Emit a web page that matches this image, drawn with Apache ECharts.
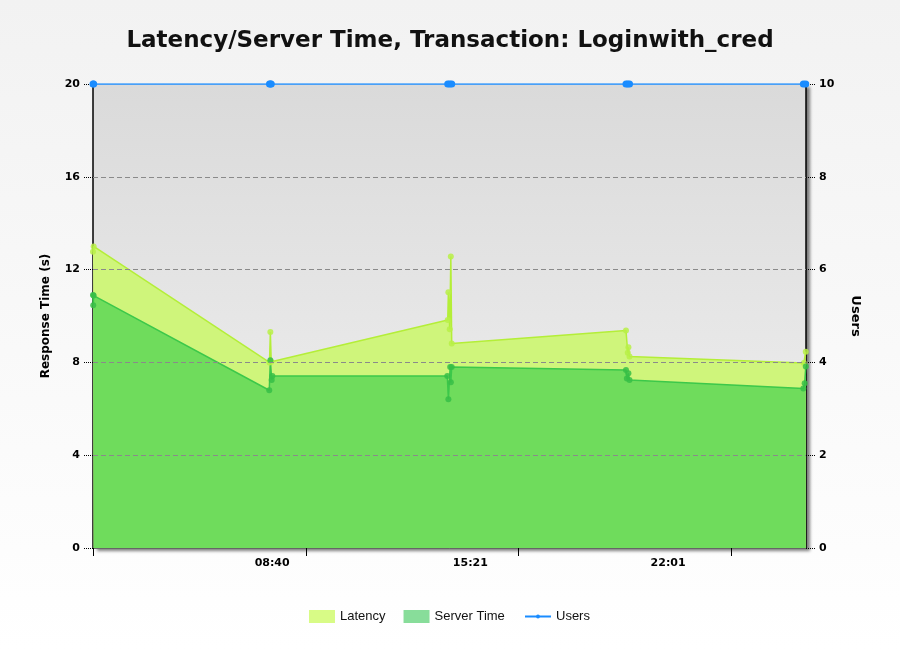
<!DOCTYPE html>
<html><head><meta charset="utf-8">
<script src="https://cdn.jsdelivr.net/npm/echarts@6/dist/echarts.min.js"></script>
<style>html,body{margin:0;padding:0;background:#fff}#c{width:900px;height:650px}</style>
</head><body><div id="c"></div>
<script>
// time in minutes from 00:00 of the first day
const latencyMinutes = [120, 121.5, 518, 520, 522, 920, 921.5, 924.5, 927, 929, 1322, 1326, 1327.5, 1330, 1723, 1727.5];
const latencyValues  = [12.77, 13.0, 8.0, 9.31, 8.03, 9.83, 11.02, 9.43, 12.56, 8.81, 9.37, 8.42, 8.65, 8.25, 7.97, 8.46];
const serverMinutes  = [120, 120.5, 121.5, 517.5, 520, 523, 524.5, 919, 921.5, 925.5, 927, 929, 1322, 1324, 1327.5, 1330, 1722, 1725, 1727.5];
const serverValues   = [10.9, 10.46, 10.88, 6.80, 8.09, 7.24, 7.41, 7.41, 6.41, 7.80, 7.14, 7.80, 7.67, 7.31, 7.53, 7.24, 6.88, 7.1, 7.82];
const usersMinutes   = [120, 121.5, 518, 520, 522, 920, 924.5, 929, 1322, 1326, 1330, 1722, 1727.5];
const usersValues    = [10, 10, 10, 10, 10, 10, 10, 10, 10, 10, 10, 10, 10];
const xTickMinutes   = [120, 600, 1080, 1560];
const xLabelMinutes  = [524, 971, 1417];
const xLabelTexts    = ['08:40', '15:21', '22:01'];
const leftGridValues = [4, 8, 12, 16];

const zip = (xs, ys) => xs.map((x, i) => [x, ys[i]]);
const chart = echarts.init(document.getElementById('c'));
const axisFont = {fontFamily: 'DejaVu Sans', fontSize: 11, fontWeight: 'bold', color: '#000'};
const legendText = {fontFamily: 'Liberation Sans', fontSize: 13, color: '#111'};
chart.setOption({
  animation: false,
  backgroundColor: {type: 'linear', x: 0, y: 0, x2: 0, y2: 1,
    colorStops: [{offset: 0, color: '#f2f2f2'}, {offset: 1, color: '#ffffff'}]},
  title: {
    text: 'Latency/Server Time, Transaction: Loginwith_cred',
    left: 'center', top: 25,
    textStyle: {fontFamily: 'DejaVu Sans', fontSize: 23, fontWeight: 'bold', color: '#111'}
  },
  legend: [{
    top: 605, left: 304, itemWidth: 26, itemHeight: 13, itemGap: 18,
    textStyle: legendText,
    data: [
      {name: 'Latency', icon: 'rect', itemStyle: {color: '#d8fb86'}},
      {name: 'Server Time', icon: 'rect', itemStyle: {color: '#88dd9a'}}
    ]
  }, {
    top: 605, left: 520, itemWidth: 26, itemHeight: 13,
    textStyle: legendText,
    data: [{name: 'Users', icon: 'path://M0,0h0.01v0.01h-0.01zM0,5.5h26v2h-26zM11,6.5a2,2 0 1,1 4,0a2,2 0 1,1 -4,0zM0,13h0.01v0.01h-0.01z', itemStyle: {color: '#1a8cff'}}]
  }],
  grid: {
    left: 93, right: 94, top: 84, bottom: 102, show: true, borderWidth: 0,
    backgroundColor: {type: 'linear', x: 0, y: 0, x2: 0, y2: 1,
      colorStops: [{offset: 0, color: '#dadada'}, {offset: 1, color: '#f2f2f2'}]},
    shadowColor: 'rgba(0,0,0,0.5)', shadowBlur: 3, shadowOffsetX: 4, shadowOffsetY: 3
  },
  xAxis: {
    type: 'value', min: 120, max: 1728,
    axisLine: {show: true, lineStyle: {color: '#666', width: 1}},
    axisTick: {show: true, customValues: xTickMinutes, length: 8, lineStyle: {color: '#000'}},
    axisLabel: {customValues: xLabelMinutes, margin: 10, ...axisFont,
      formatter: v => { const i = xLabelMinutes.indexOf(v); return i >= 0 ? xLabelTexts[i] : ''; }},
    splitLine: {show: false}
  },
  yAxis: [{
    type: 'value', min: 0, max: 20, interval: 4, position: 'left',
    name: 'Response Time (s)', nameLocation: 'middle', nameGap: 41,
    nameTextStyle: {fontFamily: 'DejaVu Sans', fontSize: 12, fontWeight: 'bold', color: '#000'},
    axisLine: {show: true, lineStyle: {color: '#000', width: 1.5}},
    axisTick: {show: true, length: 10, lineStyle: {color: '#000', type: 'dotted'}},
    axisLabel: {margin: 13, ...axisFont},
    splitLine: {show: false}
  }, {
    type: 'value', min: 0, max: 10, interval: 2, position: 'right',
    name: 'Users', nameLocation: 'middle', nameGap: 43, nameRotate: -90,
    nameTextStyle: {fontFamily: 'DejaVu Sans', fontSize: 13, fontWeight: 'bold', color: '#000'},
    axisLine: {show: true, lineStyle: {color: '#000', width: 1.5}},
    axisTick: {show: true, length: 10, lineStyle: {color: '#000', type: 'dotted'}},
    axisLabel: {margin: 13, ...axisFont},
    splitLine: {show: false}
  }],
  series: [{
    name: 'Latency', type: 'line', yAxisIndex: 0,
    data: zip(latencyMinutes, latencyValues),
    symbol: 'circle', symbolSize: 6, showSymbol: true,
    itemStyle: {color: 'rgba(185,240,70,0.85)'},
    lineStyle: {color: '#b4ee38', width: 1.5},
    areaStyle: {color: '#cff57b', opacity: 1},
    emphasis: {disabled: true}
  }, {
    name: 'Server Time', type: 'line', yAxisIndex: 0,
    data: zip(serverMinutes, serverValues),
    symbol: 'circle', symbolSize: 6, showSymbol: true,
    itemStyle: {color: 'rgba(55,190,70,0.85)'},
    lineStyle: {color: '#3cc84a', width: 1.5},
    areaStyle: {color: '#6fdc5c', opacity: 1},
    emphasis: {disabled: true},
    markLine: {
      silent: true, symbol: ['none', 'none'], label: {show: false},
      lineStyle: {color: '#8a8a8a', type: [5, 3], width: 1},
      data: leftGridValues.map(v => ({yAxis: v}))
    }
  }, {
    name: 'Users', type: 'line', yAxisIndex: 1,
    data: zip(usersMinutes, usersValues),
    symbol: 'circle', symbolSize: 7, showSymbol: true,
    itemStyle: {color: '#1a8cff'},
    lineStyle: {color: '#1a8cff', width: 1.5},
    emphasis: {disabled: true}
  }]
});
</script></body></html>
